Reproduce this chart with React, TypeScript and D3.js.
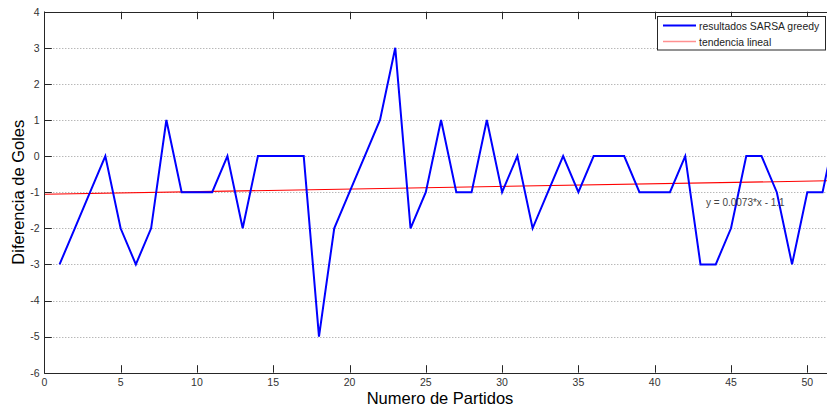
import React from "react";
import * as d3 from "d3";

// Match number (x) and goal difference (y) per match
const partidos: number[] = d3.range(1, 53);
const golesDiferencia: number[] = [
  -3, -2, -1, 0, -2, -3, -2, 1, -1, -1,
  -1, 0, -2, 0, 0, 0, 0, -5, -2, -1,
  0, 1, 3, -2, -1, 1, -1, -1, 1, -1,
  0, -2, -1, 0, -1, 0, 0, 0, -1, -1,
  -1, 0, -3, -3, -2, 0, 0, -1, -3, -1,
  -1, 1,
];

const xTicks: number[] = [0, 5, 10, 15, 20, 25, 30, 35, 40, 45, 50];
const yTicks: number[] = [4, 3, 2, 1, 0, -1, -2, -3, -4, -5, -6];
const legendLabels: string[] = ["resultados SARSA greedy", "tendencia lineal"];
const fitLabel = "y = 0.0073*x - 1.1";

const W = 827;
const H = 409;
const FONT = "'Liberation Sans', Arial, Helvetica, sans-serif";

// least-squares linear trend of the series
function linearFit(xs: number[], ys: number[]) {
  const mx = d3.mean(xs) as number;
  const my = d3.mean(ys) as number;
  let sxy = 0;
  let sxx = 0;
  xs.forEach((x, i) => {
    sxy += (x - mx) * (ys[i] - my);
    sxx += (x - mx) * (x - mx);
  });
  const slope = sxy / sxx;
  return { slope, intercept: my - slope * mx };
}

export default function App() {
  const x = d3.scaleLinear().domain([0, 50]).range([44.3, 807.3]);
  const y = d3.scaleLinear().domain([-6, 4]).range([372.7, 11.7]);
  const left = x(0);
  const right = x(52);
  const top = y(4);
  const bottom = y(-6);
  const tickLen = 7.5;

  const pts = partidos.map((p, i) => [p, golesDiferencia[i]] as [number, number]);
  const line = d3
    .line<[number, number]>()
    .x((d) => x(d[0]))
    .y((d) => y(d[1]));

  const { slope, intercept } = linearFit(partidos, golesDiferencia);
  const trend: [number, number][] = [0, 52].map((v) => [v, slope * v + intercept]);

  const axisColor = "#262626";

  return (
    <svg
      width={W}
      height={H}
      style={{ position: "absolute", left: 0, top: 0, background: "#fff" }}
      fontFamily={FONT}
    >
      <rect x={0} y={0} width={W} height={H} fill="#fff" />
      <defs>
        <clipPath id="plotArea">
          <rect x={left} y={top} width={right - left} height={bottom - top} />
        </clipPath>
      </defs>

      {/* horizontal dotted grid */}
      {yTicks
        .filter((t) => t !== 4 && t !== -6)
        .map((t) => (
          <line
            key={"g" + t}
            x1={left}
            x2={right}
            y1={Math.round(y(t)) + 0.5}
            y2={Math.round(y(t)) + 0.5}
            stroke="#9a9a9a"
            strokeWidth={1}
            strokeDasharray="1,2"
          />
        ))}

      {/* series */}
      <g clipPath="url(#plotArea)">
        <path
          d={line(trend) ?? ""}
          fill="none"
          stroke="#ff0000"
          strokeWidth={1.1}
        />
        <path
          d={line(pts) ?? ""}
          fill="none"
          stroke="#0000ff"
          strokeWidth={2}
          strokeLinejoin="miter"
        />
      </g>

      {/* axes frame */}
      <line x1={left} x2={right} y1={Math.round(top) + 0.5} y2={Math.round(top) + 0.5} stroke={axisColor} />
      <line x1={left} x2={right} y1={Math.round(bottom) + 0.5} y2={Math.round(bottom) + 0.5} stroke={axisColor} />
      <line x1={Math.round(left) + 0.5} x2={Math.round(left) + 0.5} y1={top} y2={bottom + 0.5} stroke={axisColor} />

      {/* x ticks (bottom and top, inward) */}
      {xTicks.map((t) => {
        const px = Math.round(x(t)) + 0.5;
        return (
          <g key={"x" + t}>
            <line x1={px} x2={px} y1={bottom} y2={bottom - tickLen} stroke={axisColor} />
            <line x1={px} x2={px} y1={top} y2={top + tickLen} stroke={axisColor} />
            <text x={x(t)} y={385.5} fontSize={10.5} fill="#333" textAnchor="middle">
              {t}
            </text>
          </g>
        );
      })}

      {/* y ticks (left, inward) */}
      {yTicks.map((t) => {
        const py = Math.round(y(t)) + 0.5;
        return (
          <g key={"y" + t}>
            <line x1={left} x2={left + tickLen} y1={py} y2={py} stroke={axisColor} />
            <text x={39.5} y={y(t) + 3.8} fontSize={10.5} fill="#333" textAnchor="end">
              {t}
            </text>
          </g>
        );
      })}

      {/* axis titles */}
      <text x={440} y={404} fontSize={16.5} fill="#000" textAnchor="middle">
        Numero de Partidos
      </text>
      <text
        transform={`translate(24,${(top + bottom) / 2}) rotate(-90)`}
        fontSize={16.5}
        fill="#000"
        textAnchor="middle"
      >
        Diferencia de Goles
      </text>

      {/* fit equation */}
      <text x={706} y={205.5} fontSize={10} fill="#444">
        {fitLabel}
      </text>

      {/* legend */}
      <g>
        <rect x={657.5} y={16.5} width={168} height={33.5} fill="#fff" stroke={axisColor} />
        <line x1={663} x2={696} y1={25.5} y2={25.5} stroke="#0000ff" strokeWidth={2} />
        <line x1={663} x2={696} y1={41.5} y2={41.5} stroke="#ff9090" strokeWidth={1.5} />
        <text x={699} y={29.5} fontSize={10.4} fill="#222">
          {legendLabels[0]}
        </text>
        <text x={699} y={45.5} fontSize={10.4} fill="#222">
          {legendLabels[1]}
        </text>
      </g>
    </svg>
  );
}
